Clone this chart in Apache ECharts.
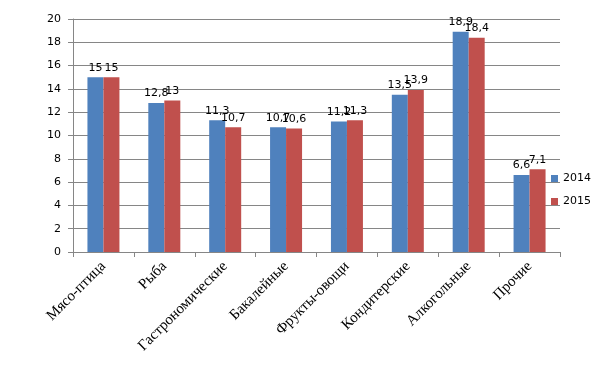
<!DOCTYPE html>
<html>
<head>
<meta charset="utf-8">
<script src="https://cdn.jsdelivr.net/npm/echarts@6/dist/echarts.min.js"></script>
<style>
  html, body { margin: 0; padding: 0; background: #fff; }
  #chart { width: 601px; height: 369px; }
</style>
</head>
<body>
<div id="chart"></div>
<script>
// категории товаров
const categories = ['Мясо-птица', 'Рыба', 'Гастрономические', 'Бакалейные', 'Фрукты-овощи', 'Кондитерские', 'Алкогольные', 'Прочие'];
const values2014 = [15, 12.8, 11.3, 10.7, 11.2, 13.5, 18.9, 6.6];
const values2015 = [15, 13, 10.7, 10.6, 11.3, 13.9, 18.4, 7.1];

const chart = echarts.init(document.getElementById('chart'), null, { renderer: 'canvas' });

// подписи с запятой вместо точки
function commaLabel(p) {
  return String(p.value).replace('.', ',');
}

const option = {
  animation: false,
  color: ['#4F81BD', '#C0504D'],
  grid: { left: 73, right: 41, top: 19, bottom: 117 },
  legend: {
    orient: 'vertical',
    right: 5,
    top: 168,
    itemWidth: 7,
    itemHeight: 7,
    itemGap: 12,
    icon: 'rect',
    textStyle: { fontFamily: 'DejaVu Sans', fontSize: 11, color: '#000' },
    data: ['2014', '2015']
  },
  xAxis: {
    type: 'category',
    data: categories,
    axisLine: { lineStyle: { color: '#868686' } },
    axisTick: { show: true, length: 5, lineStyle: { color: '#868686' } },
    axisLabel: {
      rotate: 45,
      margin: 12,
      fontFamily: 'Liberation Serif',
      fontSize: 15,
      color: '#000'
    }
  },
  yAxis: {
    type: 'value',
    min: 0,
    max: 20,
    interval: 2,
    axisLine: { show: true, lineStyle: { color: '#868686' } },
    axisTick: { show: true, length: 5, lineStyle: { color: '#868686' } },
    axisLabel: { margin: 12, fontFamily: 'DejaVu Sans', fontSize: 11, color: '#000' },
    splitLine: { lineStyle: { color: '#868686' } }
  },
  series: [
    {
      name: '2014',
      type: 'bar',
      data: values2014,
      barWidth: 16,
      barGap: '0%',
      label: {
        show: true,
        position: 'top',
        distance: 4,
        formatter: commaLabel,
        fontFamily: 'DejaVu Sans',
        fontSize: 11,
        color: '#000'
      }
    },
    {
      name: '2015',
      type: 'bar',
      data: values2015,
      barWidth: 16,
      label: {
        show: true,
        position: 'top',
        distance: 4,
        formatter: commaLabel,
        fontFamily: 'DejaVu Sans',
        fontSize: 11,
        color: '#000'
      }
    }
  ]
};

chart.setOption(option);
</script>
</body>
</html>
